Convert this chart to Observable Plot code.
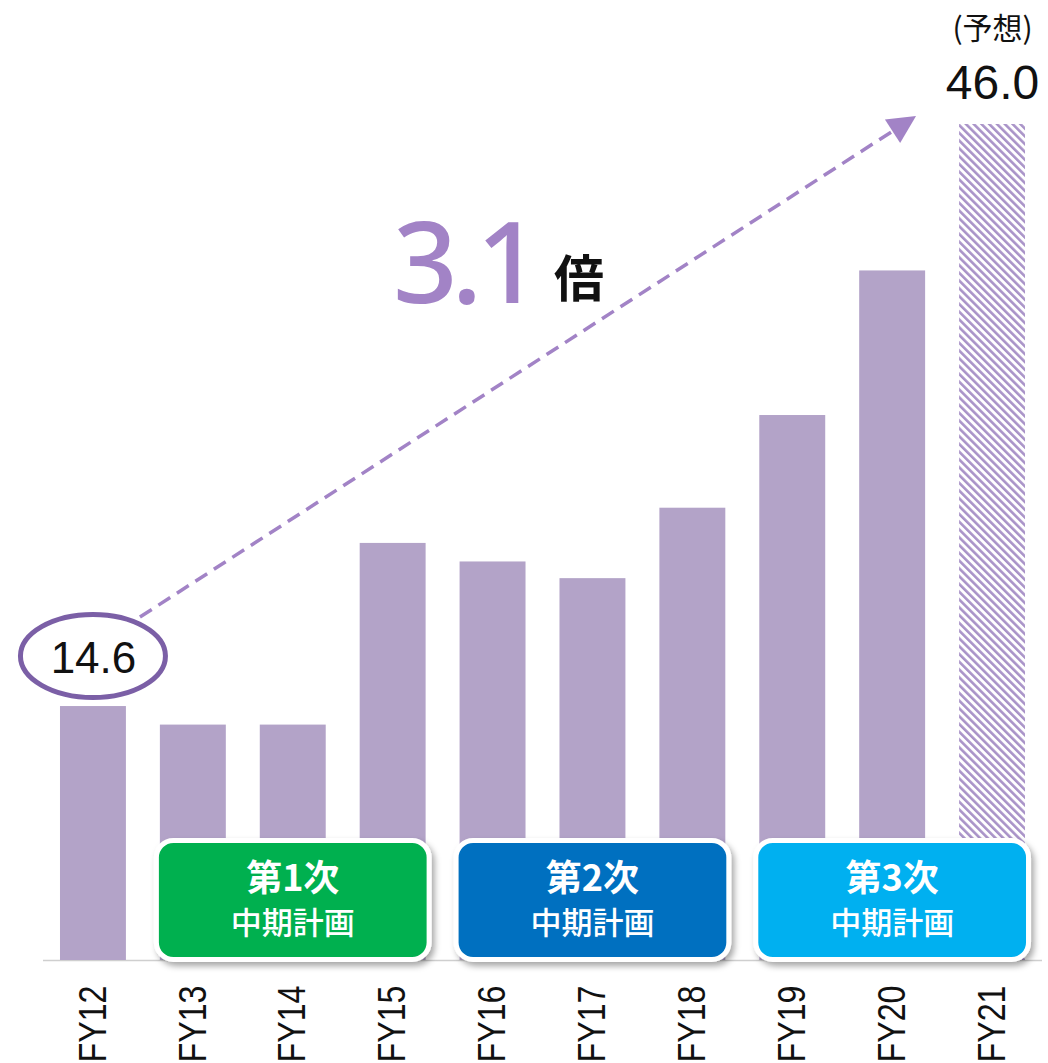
<!DOCTYPE html>
<html><head><meta charset="utf-8">
<script src="https://cdn.jsdelivr.net/npm/d3@7"></script>
<script src="https://cdn.jsdelivr.net/npm/@observablehq/plot@0.6"></script>
<style>body{margin:0;background:#fff}</style>
</head><body><div id="chart"></div>
<script>
// ---- data ----
const years = ["FY12","FY13","FY14","FY15","FY16","FY17","FY18","FY19","FY20","FY21"];
const values = [14.6, 13.6, 13.6, 23.4, 22.4, 21.5, 25.3, 30.3, 38.1, 46.0];
const isForecast = [false,false,false,false,false,false,false,false,false,true];
const planTitles = ["第1次","第2次","第3次"];
const planSubtitle = "中期計画";
const planFirst = ["FY13","FY16","FY19"];
const planLast = ["FY15","FY18","FY21"];
const planColors = ["#00b04f","#0070c0","#00b0f0"];
const forecastNote = "(予想)";
const growthNumber = "3.1";
const growthUnit = "倍";
const yBase = 0.9;

const data = years.map((y, i) => ({year: y, value: values[i], forecast: isForecast[i]}));
const first = data[0], last = data[data.length - 1];

const barColor = "#b3a3c8";
const accent = "#a283c6";
const cjk = "'Noto Sans CJK JP', 'Noto Sans', sans-serif";

const chart = Plot.plot({
  width: 1048, height: 1063,
  marginLeft: 43, marginRight: 6, marginTop: 124, marginBottom: 103,
  x: {domain: years, paddingInner: 0.34, paddingOuter: 0.17, round: false, label: null, tickSize: 0, tickPadding: 25, tickRotate: -90},
  y: {domain: [yBase, 46], axis: null},
  style: {fontFamily: "'Liberation Sans', sans-serif", fontSize: "38px", color: "#111", overflow: "visible", background: "#fff"},
  marks: [
    Plot.ruleY([yBase], {stroke: "#cfcfcf", strokeWidth: 1.5}),
    Plot.barY(data.filter(d => !d.forecast), {x: "year", y1: yBase, y2: "value", fill: barColor}),
    Plot.barY(data.filter(d => d.forecast), {x: "year", y1: yBase, y2: "value", fill: "url(#hatch)"}),
    Plot.text([first], {x: "year", y: "value", text: d => d.value.toFixed(1), dy: -48, fontSize: 44, fontFamily: "'Liberation Sans', sans-serif", fill: "#111"}),
    Plot.text([last], {x: "year", y: "value", text: d => d.value.toFixed(1), dy: -41, fontSize: 48, fontFamily: "'Liberation Sans', sans-serif", fill: "#111"}),
    Plot.text([last], {x: "year", y: "value", text: () => forecastNote, dy: -95, fontSize: 30, fontFamily: cjk, fill: "#111"})
  ]
});
document.getElementById("chart").appendChild(chart);

const svg = d3.select(chart);
const xs = chart.scale("x"), ys = chart.scale("y");
const bw = xs.bandwidth;
const X = v => xs.apply(v);
const Y = v => ys.apply(v);

// condense the rotated tick labels
svg.selectAll("g[aria-label='x-axis tick label'] text")
  .attr("textLength", 77).attr("lengthAdjust", "spacingAndGlyphs");

// defs: hatch pattern + shadow
const defs = svg.insert("defs", ":first-child");
const pat = defs.append("pattern").attr("id", "hatch").attr("patternUnits", "userSpaceOnUse")
  .attr("width", 5.5).attr("height", 5.5).attr("patternTransform", "rotate(-45)");
pat.append("rect").attr("width", 5.5).attr("height", 5.5).attr("fill", "#fff");
pat.append("rect").attr("width", 2.6).attr("height", 5.5).attr("fill", "#a993c8");
const flt = defs.append("filter").attr("id", "shadow").attr("x", "-10%").attr("y", "-10%").attr("width", "130%").attr("height", "140%");
flt.append("feDropShadow").attr("dx", 3).attr("dy", 4).attr("stdDeviation", 3).attr("flood-color", "#000").attr("flood-opacity", 0.35);

// ellipse around first value
const ex = X(first.year) + bw / 2, ey = Y(first.value) - 50;
svg.append("ellipse").attr("cx", ex).attr("cy", ey).attr("rx", 72.5).attr("ry", 41.5)
  .attr("fill", "none").attr("stroke", "#7b5fa6").attr("stroke-width", 5);

// dashed growth arrow
const sx = ex + 47, sy = ey - 39;
const tx = X(last.year) + bw / 2 - 76, ty = Y(last.value) - 8;
const dxl = tx - sx, dyl = ty - sy, L = Math.hypot(dxl, dyl);
const ux = dxl / L, uy = dyl / L, nx = -uy, ny = ux;
const headLen = 28, headHalf = 14;
const bx = tx - headLen * ux, by = ty - headLen * uy;
svg.append("line").attr("x1", sx).attr("y1", sy).attr("x2", bx).attr("y2", by)
  .attr("stroke", accent).attr("stroke-width", 3.5).attr("stroke-dasharray", "14 8");
svg.append("path").attr("d", `M${tx},${ty}L${bx + headHalf * nx},${by + headHalf * ny}L${bx - headHalf * nx},${by - headHalf * ny}Z`)
  .attr("fill", accent);

// 3.1倍
svg.append("text").attr("x", 464).attr("y", 303).attr("text-anchor", "middle")
  .attr("font-family", "'Noto Sans', sans-serif").attr("font-weight", 500).attr("font-size", 113)
  .attr("letter-spacing", -6).attr("fill", accent).text(growthNumber);
svg.append("text").attr("x", 579).attr("y", 297).attr("text-anchor", "middle")
  .attr("font-family", cjk).attr("font-weight", 700).attr("font-size", 50)
  .attr("fill", "#111").text(growthUnit);

// plan boxes
const base = Y(yBase);
planTitles.forEach((t, i) => {
  const x0 = X(planFirst[i]) - 3.5, x1 = X(planLast[i]) + bw + 3.5;
  const y0 = base - 119.5, y1 = base - 0.5;
  const g = svg.append("g");
  g.append("rect").attr("x", x0).attr("y", y0).attr("width", x1 - x0).attr("height", y1 - y0)
    .attr("rx", 17).attr("fill", planColors[i]).attr("stroke", "#fff").attr("stroke-width", 5)
    .attr("filter", "url(#shadow)");
  const cx = (x0 + x1) / 2;
  g.append("text").attr("x", cx).attr("y", base - 82).attr("dy", "0.35em").attr("text-anchor", "middle")
    .attr("font-family", cjk).attr("font-weight", 700).attr("font-size", 36).attr("fill", "#fff").text(t);
  g.append("text").attr("x", cx).attr("y", base - 37).attr("dy", "0.35em").attr("text-anchor", "middle")
    .attr("font-family", cjk).attr("font-weight", 500).attr("font-size", 31).attr("fill", "#fff").text(planSubtitle);
});
</script></body></html>
